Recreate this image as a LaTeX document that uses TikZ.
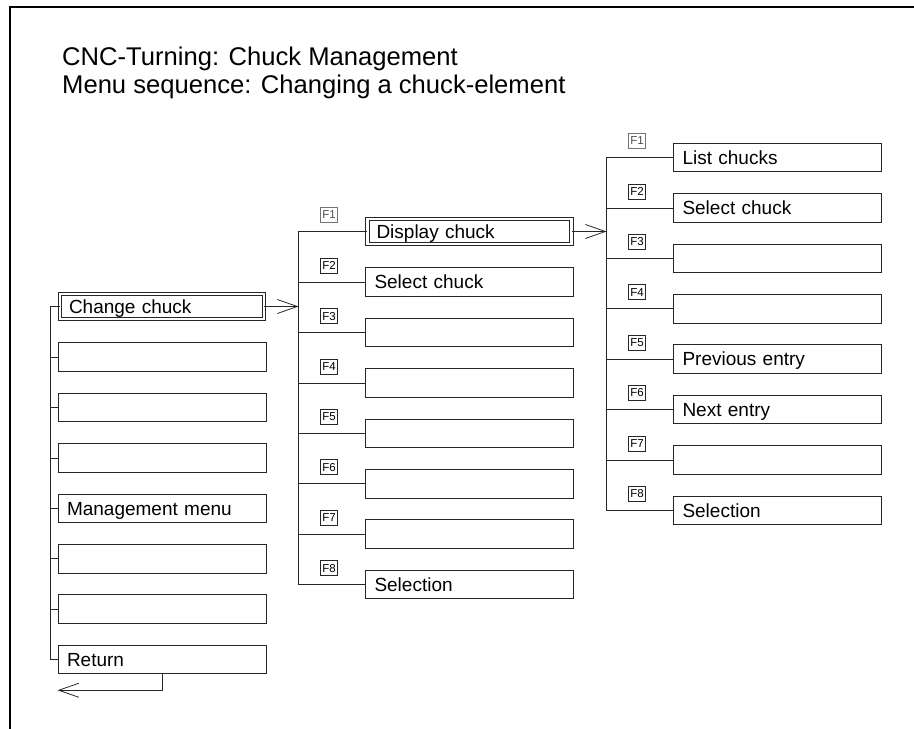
\documentclass[tikz,border=0pt]{standalone}
\usepackage{fontspec}
\setmainfont{Liberation Sans}
\usetikzlibrary{positioning, arrows.meta, calc}

\begin{document}
\begin{tikzpicture}[
    x=1pt, y=1pt,
    node distance=21pt,
    box/.style={
      draw=black!85, line width=0.9pt,
      minimum height=28.5pt, text width=190pt,
      inner xsep=9pt, inner ysep=0pt, align=left,
      text height=13.6pt, text depth=0pt,
      font=\fontsize{19}{22}\selectfont,
    },
    dbox/.style={box, double, double distance=2.5pt,
                 text width=186pt, minimum height=25pt},
    fkey/.style={draw=black!85, line width=0.7pt, inner sep=0pt,
                 minimum width=16.5pt, minimum height=15pt,
                 font=\fontsize{11.5}{13}\selectfont},
    faint/.style={draw=black!55, text=black!70},
    bus/.style={draw=black!85, line width=0.8pt},
    arrow/.style={bus, -{Straight Barb[length=20pt, width=14pt]}},
    title/.style={inner sep=0pt, anchor=base west,
                  font=\fontsize{25.6}{28}\selectfont},
]
\useasboundingbox (0,0) rectangle (914,-729);

% frame, top and left edge only
\draw[line width=2pt] (10,-729) -- (10,-6.5) -- (914,-6.5);

\node[title] (head) at (62,-65) {CNC-Turning: Chuck Management};
\node[title] (sub)  at (62,-93) {Menu sequence: Changing a chuck-element};

% main menu
\node[dbox]                     (L1) at (162,-306.5) {Change chuck};
\node[box, below=23pt of L1]    (L2) {};
\node[box, below=of L2]         (L3) {};
\node[box, below=of L3]         (L4) {};
\node[box, below=of L4]         (L5) {Management menu};
\node[box, below=of L5]         (L6) {};
\node[box, below=of L6]         (L7) {};
\node[box, below=of L7]         (L8) {Return};

% chuck menu
\node[dbox]                     (M1) at (469.5,-231.5) {Display chuck};
\node[box, below=23pt of M1]    (M2) {Select chuck};
\node[box, below=of M2]         (M3) {};
\node[box, below=of M3]         (M4) {};
\node[box, below=of M4]         (M5) {};
\node[box, below=of M5]         (M6) {};
\node[box, below=of M6]         (M7) {};
\node[box, below=of M7]         (M8) {Selection};

% display menu
\node[box]                      (R1) at (777.5,-157.5) {List chucks};
\node[box, below=of R1]         (R2) {Select chuck};
\node[box, below=of R2]         (R3) {};
\node[box, below=of R3]         (R4) {};
\node[box, below=of R4]         (R5) {Previous entry};
\node[box, below=of R5]         (R6) {Next entry};
\node[box, below=of R6]         (R7) {};
\node[box, below=of R7]         (R8) {Selection};

\coordinate (Lbus) at ($(L2.west)+(-7,0)$);
\coordinate (Mbus) at ($(M2.west)+(-66.5,0)$);
\coordinate (Rbus) at ($(R2.west)+(-66.5,0)$);

\foreach \c in {L,M,R} {
  \draw[bus] (\c1.west) -- (\c1.west -| \c bus) -- (\c8.west -| \c bus) -- (\c8.west);
  \foreach \i in {2,...,7}
    \draw[bus] (\c\i.west) -- (\c\i.west -| \c bus);
}

% function keys
\foreach \c in {M,R} {
  \node[fkey, faint] (\c k1) at ($(\c1.west -| \c bus)+(30.5,16.5)$) {F1};
  \foreach \i in {2,...,8}
    \node[fkey] (\c k\i) at ($(\c\i.west -| \c bus)+(30.5,16.5)$) {F\i};
}

\draw[arrow] (L1.east) -- (L1.east -| Mbus);
\draw[arrow] (M1.east) -- (M1.east -| Rbus);

\coordinate (back) at ($(L8.south west)+(0,-16)$);
\draw[arrow] (L8.south) |- (back);
\end{tikzpicture}
\end{document}
